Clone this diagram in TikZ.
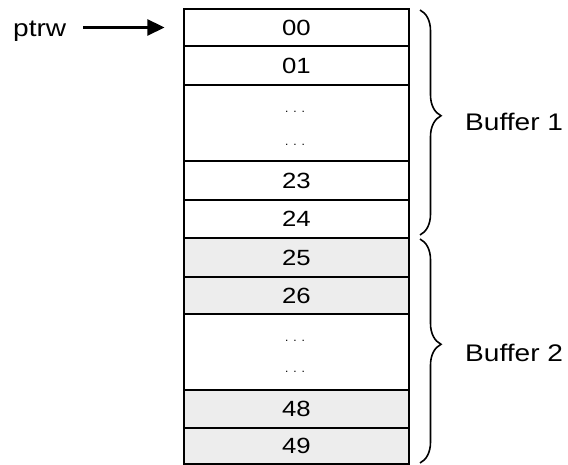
\documentclass[tikz,border=0pt]{standalone}
\usepackage{fontspec}
\usepackage{graphicx}
\setmainfont{Liberation Sans}
\usetikzlibrary{arrows.meta,decorations.pathreplacing}
\newcommand\wide[1]{\scalebox{1.17}[1]{#1}}
\tikzset{
  cell/.style={draw=black, line width=1.1pt, minimum width=225pt, inner sep=0pt, font=\fontsize{22}{24}\selectfont},
  shaded/.style={cell, fill=gray!14},
  dotsnode/.style={inner sep=0pt, font=\fontsize{12}{12}\selectfont},
  lbl/.style={inner sep=0pt, font=\fontsize{24}{28}\selectfont},
  ptr/.style={line width=2.6pt, -{Triangle[length=17pt,width=16pt]}},
  bracestyle/.style={line width=1.6pt, decorate, decoration={brace, amplitude=21pt, aspect=0.47}}
}
\begin{document}
\begin{tikzpicture}[x=1pt,y=-1pt]
\useasboundingbox (0,0) rectangle (568,465);
% rows
\node[cell, minimum height=37pt] (r00) at (296.5,27.5) {\wide{00}};
\node[cell, minimum height=39pt] (r01) at (296.5,65.5) {\wide{01}};
\node[cell, minimum height=76pt] (rd1) at (296.5,123) {};
\node[cell, minimum height=39pt] (r23) at (296.5,180.5) {\wide{23}};
\node[cell, minimum height=38pt] (r24) at (296.5,219) {\wide{24}};
\node[shaded, minimum height=39pt] (r25) at (296.5,257.5) {\wide{25}};
\node[shaded, minimum height=37pt] (r26) at (296.5,295.5) {\wide{26}};
\node[cell, minimum height=76pt] (rd2) at (296.5,352) {};
\node[shaded, minimum height=38pt] (r48) at (296.5,409) {\wide{48}};
\node[shaded, minimum height=36pt] (r49) at (296.5,446) {\wide{49}};
% dots
\node[dotsnode] (d1a) at (295,112) {.\hspace{5pt}.\hspace{5pt}.};
\node[dotsnode] (d1b) at (295,145) {.\hspace{5pt}.\hspace{5pt}.};
\node[dotsnode] (d2a) at (295,341) {.\hspace{5pt}.\hspace{5pt}.};
\node[dotsnode] (d2b) at (295,372) {.\hspace{5pt}.\hspace{5pt}.};
% pointer
\node[lbl, anchor=base west] (ptrw) at (13,37) {\wide{ptrw}};
\draw[ptr, shorten <=17pt, shorten >=19pt] (ptrw.east |- r00.west) -- (r00.west);
% braces
\coordinate (b1t) at (420,10);
\coordinate (b1b) at (420,235);
\coordinate (b2t) at (420,239);
\coordinate (b2b) at (420,463);
\draw[bracestyle] (b1t) -- (b1b);
\draw[bracestyle] (b2t) -- (b2b);
\node[lbl, anchor=base west] (buf1) at (465,131) {\wide{Buffer 1}};
\node[lbl, anchor=base west] (buf2) at (465,361) {\wide{Buffer 2}};
\end{tikzpicture}
\end{document}
